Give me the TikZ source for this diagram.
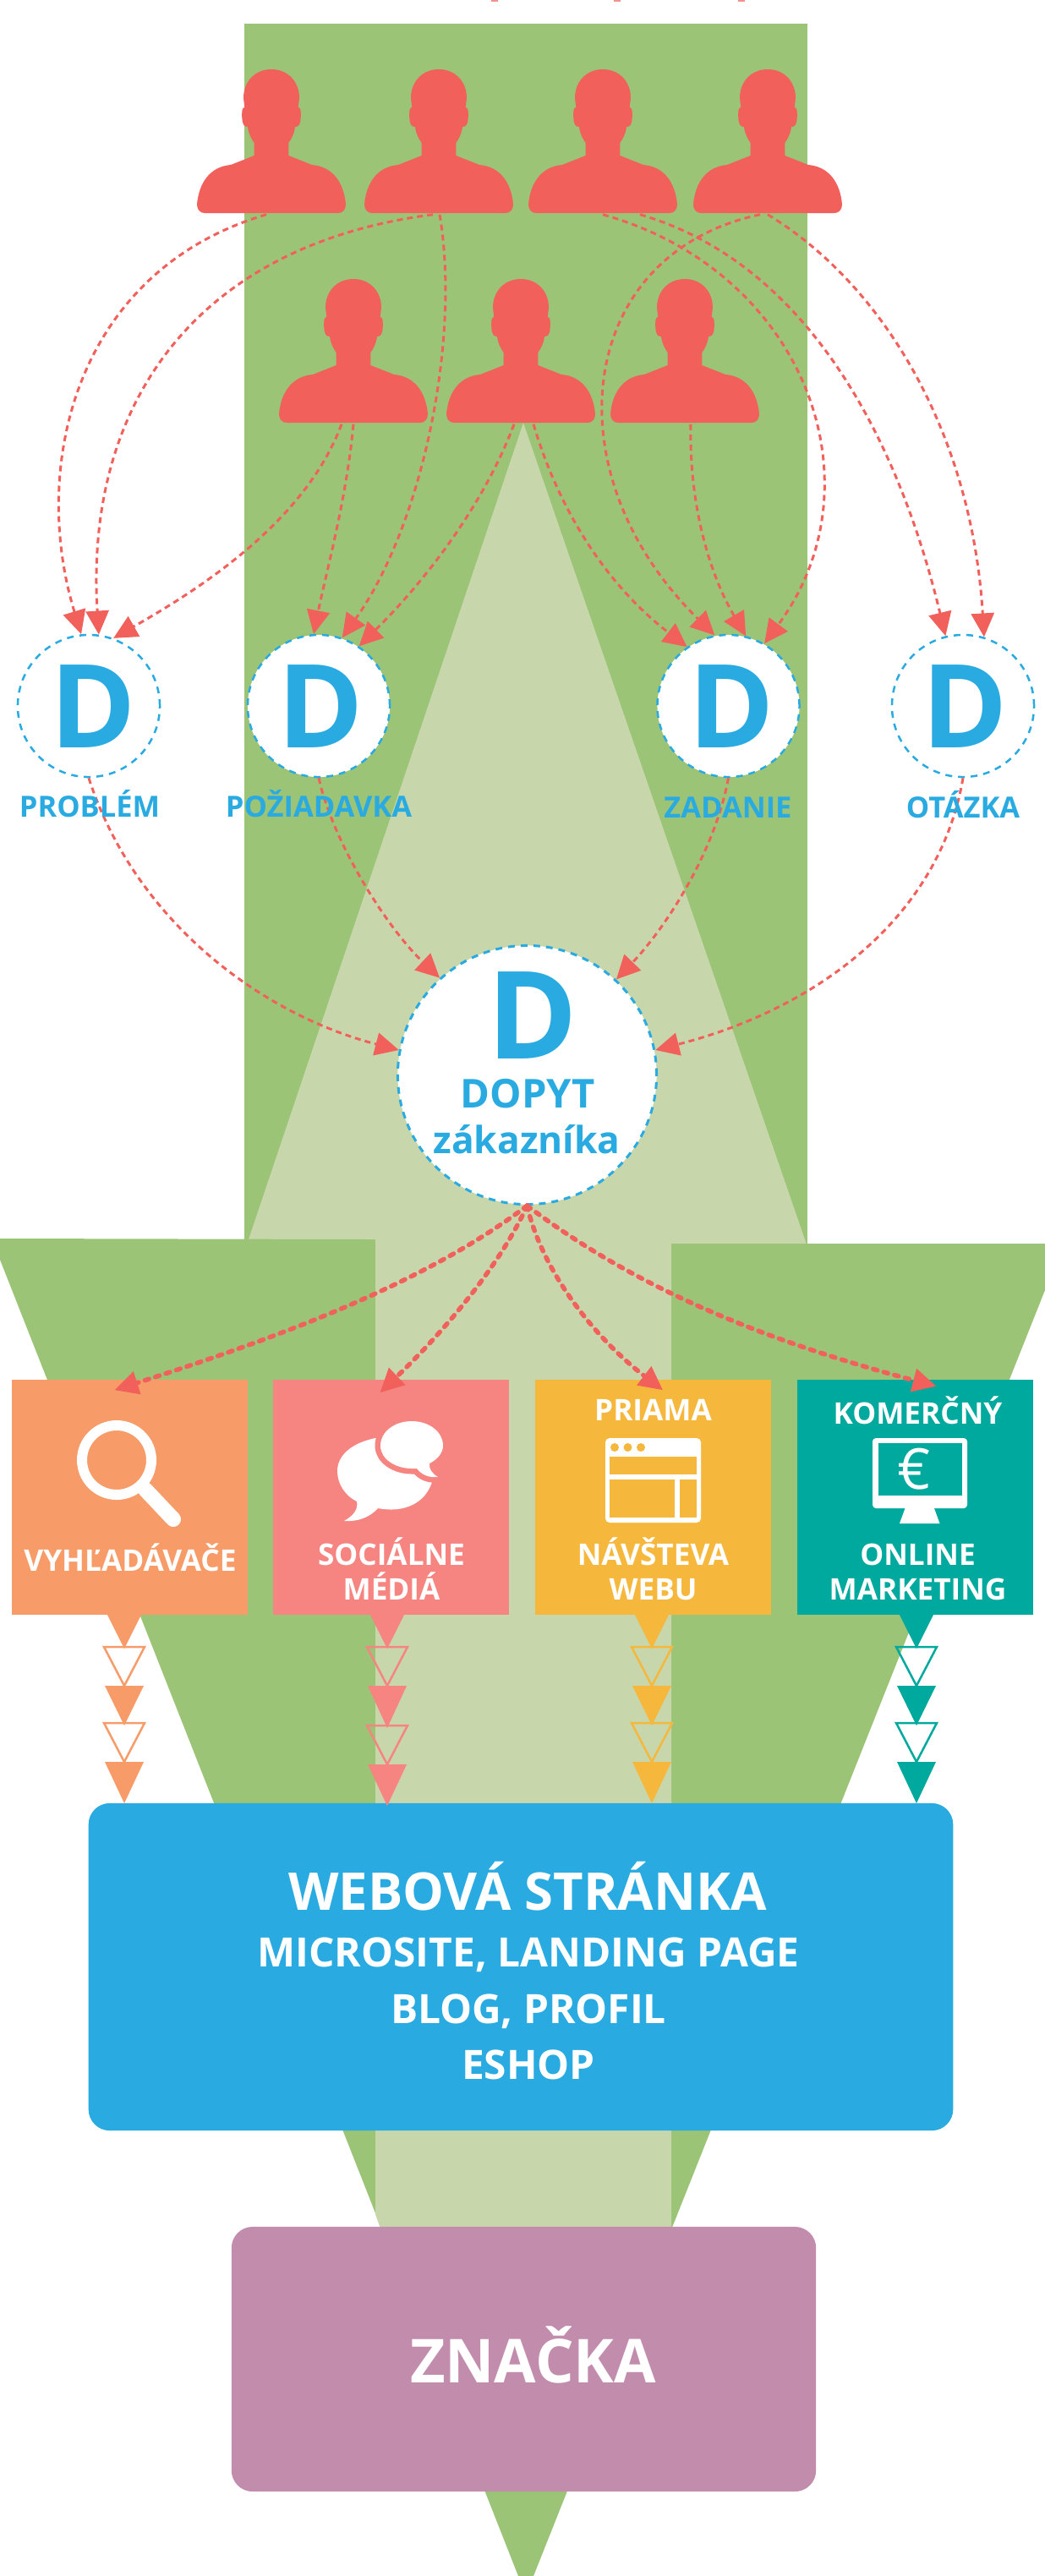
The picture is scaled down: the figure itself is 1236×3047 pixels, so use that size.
\documentclass[tikz,border=0pt]{standalone}
\usepackage{fontspec}
\setmainfont{Open Sans}
\usetikzlibrary{arrows.meta}
\definecolor{leafgreen}{HTML}{9BC476}
\definecolor{palegreen}{HTML}{C8D7AB}
\definecolor{peoplered}{HTML}{F2605B}
\definecolor{skyblue}{HTML}{29ABE2}
\definecolor{orangebox}{HTML}{F79B69}
\definecolor{pinkbox}{HTML}{F68480}
\definecolor{yellowbox}{HTML}{F6B83C}
\definecolor{tealbox}{HTML}{00A99D}
\definecolor{mauvebox}{HTML}{C28CAD}
\newcommand{\pt}[1]{\fontsize{#1}{#1}\selectfont\bfseries}
\begin{document}
\begin{tikzpicture}[x=0.01cm,y=-0.01cm,
	person/.style={minimum width=1.78cm,minimum height=1.72cm,inner sep=0pt,
		path picture={\fill[peoplered]
			(0,-85) .. controls (-19,-85) and (-33,-71) .. (-33,-51) -- (-31.7,-40)
			.. controls (-35,-40) and (-35,-35) .. (-34.7,-27)
			.. controls (-34,-19) and (-32,-17) .. (-28,-17)
			.. controls (-27,-9) and (-24,-3) .. (-20.3,2) -- (-20.3,17) -- (-48,28)
			.. controls (-73,30) and (-86,50) .. (-88,75)
			.. controls (-88,81) and (-84,85) .. (-79,85) -- (79,85)
			.. controls (84,85) and (88,81) .. (88,75)
			.. controls (86,50) and (73,30) .. (48,28) -- (20.3,17) -- (20.3,2)
			.. controls (24,-3) and (27,-9) .. (28,-17)
			.. controls (32,-17) and (34,-19) .. (34.7,-27)
			.. controls (35,-35) and (35,-40) .. (31.7,-40) -- (33,-51)
			.. controls (33,-71) and (19,-85) .. (0,-85) -- cycle;}},
	demand/.style={shape=circle,minimum size=1.68cm,inner sep=0pt,fill=white,draw=skyblue,
		line width=0.025cm,dash pattern=on 0.08cm off 0.07cm},
	maindemand/.style={demand,minimum size=3.06cm,line width=0.03cm},
	dsign/.style={text=skyblue,inner sep=0pt,anchor=base,font=\pt{39}},
	dlabel/.style={text=skyblue,inner sep=0pt,anchor=base,font=\pt{9.8}},
	channel/.style={minimum width=2.79cm,minimum height=2.78cm,inner sep=0pt},
	boxtext/.style={text=white,inner sep=0pt,anchor=base,font=\pt{10}},
	panel/.style={rounded corners=0.25cm,inner sep=0pt},
	flow/.style={draw=peoplered,line width=0.03cm,dash pattern=on 0.07cm off 0.05cm,
		-{Triangle[length=0.28cm,width=0.27cm,fill=peoplered]}},
	thickflow/.style={flow,line width=0.055cm,line cap=round,dash pattern=on 0.05cm off 0.08cm}]

\useasboundingbox (0,0) rectangle (1236,3047);

% background shapes
\fill[leafgreen] (289,28) rectangle (955,1472);
\fill[palegreen] (619,500) -- (954,1472) -- (292,1472) -- cycle;
\fill[leafgreen] (0,1465) -- (444,1466) -- (794,1471) -- (1236,1471) -- (1236,1526) -- (631,3047) -- (613,3047) -- (0,1490) -- cycle;
\fill[palegreen] (444,1464) -- (794,1464) -- (794,2636) -- (450,2636) -- (444,2619) -- cycle;
\foreach \cx in {585,730,877}
	\fill[peoplered!70] (\cx-4,0) rectangle (\cx+4,2);

% people
\node[person] (pa) at (321,167) {};
\node[person] (pb) at (519,167) {};
\node[person] (pc) at (713,167) {};
\node[person] (pd) at (908,167) {};
\node[person] (pe) at (418,415) {};
\node[person] (pf) at (616,415) {};
\node[person] (pg) at (810,415) {};

% demands
\node[demand] (problem) at (105,835) {};
\node[demand] (poziadavka) at (377,835) {};
\node[demand] (zadanie) at (861.5,835) {};
\node[demand] (otazka) at (1139,835) {};
\node[maindemand] (dopyt) at (623.5,1271.5) {};

% channels
\node[channel,fill=orangebox] (search) at (153.5,1771) {};
\node[channel,fill=pinkbox] (social) at (462.5,1771) {};
\node[channel,fill=yellowbox] (direct) at (772.5,1771) {};
\node[channel,fill=tealbox] (online) at (1082.5,1771) {};
\node[panel,fill=skyblue,minimum width=10.22cm,minimum height=3.87cm] (web) at (616,2326.5) {};
\node[panel,fill=mauvebox,minimum width=6.91cm,minimum height=3.13cm] (brand) at (619.5,2790.5) {};

% triangles down to the web box
\foreach \cx/\tone/\extra in {147/orangebox/0,458/pinkbox/3,771/yellowbox/0,1084/tealbox/0}{
	\fill[\tone] (\cx-20,1910) -- (\cx+20,1910) -- (\cx,1950) -- cycle;
	\draw[\tone,line width=0.025cm] (\cx-24,1948) -- (\cx+24,1948) -- (\cx,1994) -- cycle;
	\fill[\tone] (\cx-23,1994) -- (\cx+23,1994) -- (\cx,2041+\extra) -- cycle;
	\draw[\tone,line width=0.025cm] (\cx-24,2038+\extra) -- (\cx+24,2038+\extra) -- (\cx,2084+\extra) -- cycle;
	\fill[\tone] (\cx-23,2084+\extra) -- (\cx+23,2084+\extra) -- (\cx,2133+\extra) -- cycle;
}

% people to demands
\draw[flow] ([xshift=-0.06cm]pa.south) .. controls (90,320) and (35,550) .. (problem.96);
\draw[flow] ([xshift=-0.07cm]pb.south) .. controls (230,290) and (100,480) .. (problem.82);
\draw[flow] ([xshift=-0.14cm]pe.south) .. controls (360,620) and (230,700) .. (problem.70);
\draw[flow] (pe.south) .. controls (410,590) and (385,680) .. (poziadavka.94);
\draw[flow] ([xshift=0.01cm]pb.south) .. controls (545,400) and (500,620) .. (poziadavka.71);
\draw[flow] ([xshift=-0.08cm]pf.south) .. controls (575,590) and (510,680) .. (poziadavka.56);
\draw[flow] ([xshift=0.15cm]pf.south) .. controls (660,600) and (715,690) .. (zadanie.125);
\draw[flow] ([xshift=-0.09cm]pd.south) .. controls (680,300) and (650,560) .. (zadanie.101);
\draw[flow] ([xshift=0.07cm]pg.south) .. controls (815,600) and (840,680) .. (zadanie.76);
\draw[flow] (pc.south) .. controls (950,320) and (1045,570) .. (zadanie.60);
\draw[flow] ([xshift=0.44cm]pc.south) .. controls (950,310) and (1060,510) .. (otazka.104);
\draw[flow] (pd.south) .. controls (1050,340) and (1150,520) .. (otazka.73);

% demands to the main demand
\draw[flow] (problem.south) .. controls (160,1090) and (310,1200) .. (dopyt.169);
\draw[flow] (poziadavka.south) .. controls (395,1000) and (460,1100) .. (dopyt.132);
\draw[flow] (zadanie.south) .. controls (845,1010) and (785,1100) .. (dopyt.47);
\draw[flow] (otazka.south) .. controls (1110,1090) and (960,1195) .. (dopyt.11);

% main demand to channels
\draw[thickflow] (dopyt.south) .. controls (500,1520) and (320,1585) .. ([xshift=-0.18cm,yshift=-0.13cm]search.north);
\draw[thickflow] (dopyt.south) .. controls (590,1500) and (520,1580) .. ([xshift=-0.13cm,yshift=-0.16cm]social.north);
\draw[thickflow] (dopyt.south) .. controls (640,1500) and (700,1580) .. ([xshift=0.115cm,yshift=-0.13cm]direct.north);
\draw[thickflow] (dopyt.south) .. controls (760,1530) and (920,1590) .. ([xshift=0.25cm,yshift=-0.085cm]online.north);

% texts in the demands
\node[dsign] (dpro) at (110,884) {D};
\node[dsign] (dpoz) at (379,884) {D};
\node[dsign] (dzad) at (865,884) {D};
\node[dsign] (dota) at (1141,884) {D};
\node[dlabel] (lpro) at (106,966) {PROBLÉM};
\node[dlabel] (lpoz) at (377,966) {POŽIADAVKA};
\node[dlabel] (lzad) at (861,967) {ZADANIE};
\node[dlabel] (lota) at (1139,967) {OTÁZKA};
\node[dsign,font=\pt{41}] (dmain) at (630,1252) {D};
\node[dlabel,font=\pt{13.4}] (ldopyt) at (624,1310) {DOPYT};
\node[dlabel,font=\pt{12.6}] (lzak) at (623,1364) {zákazníka};

% texts in the channels
\node[boxtext] (tsearch) at (154,1858) {VYHĽADÁVAČE};
\node[boxtext] (tsoca) at (463,1851) {SOCIÁLNE};
\node[boxtext] (tsocb) at (463,1892) {MÉDIÁ};
\node[boxtext] (tdira) at (772.5,1680) {PRIAMA};
\node[boxtext] (tdirb) at (772.5,1851) {NÁVŠTEVA};
\node[boxtext] (tdirc) at (772.5,1892) {WEBU};
\node[boxtext] (tonla) at (1085.5,1684) {KOMERČNÝ};
\node[boxtext] (tonlb) at (1085.5,1851) {ONLINE};
\node[boxtext] (tonlc) at (1085.5,1892) {MARKETING};

% texts in the big boxes
\node[boxtext,font=\pt{17.5}] (tweba) at (624,2259) {WEBOVÁ STRÁNKA};
\node[boxtext,font=\pt{13.6}] (twebb) at (625,2326) {MICROSITE, LANDING PAGE};
\node[boxtext,font=\pt{13.6}] (twebc) at (625,2393) {BLOG, PROFIL};
\node[boxtext,font=\pt{13.6}] (twebd) at (625,2459) {ESHOP};
\node[boxtext,font=\pt{20.4}] (tbrand) at (630.5,2818.5) {ZNAČKA};

% icon: magnifier
\draw[white,line width=0.12cm] (138,1727) circle (41);
\draw[white,line width=0.18cm,line cap=round] (172,1762) -- (205,1797);

% icon: two bubbles
\fill[white] (444,1701) .. controls (415,1707) and (399,1722) .. (399,1740)
	.. controls (399,1755) and (408,1769) .. (422,1776)
	.. controls (424,1785) and (418,1793) .. (407,1799)
	.. controls (425,1800) and (438,1794) .. (447,1784)
	.. controls (478,1790) and (503,1778) .. (511,1753) -- cycle;
\fill[white,preaction={draw=pinkbox,line width=0.13cm}] (487,1681)
	.. controls (466,1681) and (450,1694) .. (450,1710)
	.. controls (450,1726) and (468,1737) .. (487,1737) -- (493,1737)
	.. controls (499,1745) and (508,1748) .. (518,1747)
	.. controls (511,1743) and (507,1737) .. (508,1731)
	.. controls (518,1726) and (524,1718) .. (524,1710)
	.. controls (524,1694) and (508,1681) .. (487,1681) -- cycle;

% icon: browser window
\fill[white,rounded corners=0.05cm] (716,1701) rectangle (829,1801);
\fill[yellowbox] (721,1723) rectangle (824,1744);
\fill[yellowbox] (721,1750) rectangle (798,1795);
\fill[yellowbox] (804,1750) rectangle (824,1795);
\foreach \dotx in {727,742.5,758}
	\fill[yellowbox] (\dotx,1712) circle (5);

% icon: monitor
\fill[white] (1072,1780) -- (1103.5,1780) -- (1111.5,1802) -- (1064,1802) -- cycle;
\fill[white,rounded corners=0.04cm] (1032,1701) rectangle (1144,1784);
\fill[tealbox] (1039,1707) rectangle (1137.5,1769);
\node[text=white,inner sep=0pt,font=\fontsize{19}{19}\selectfont] (euro) at (1081.5,1737.5) {€};
\end{tikzpicture}
\end{document}
